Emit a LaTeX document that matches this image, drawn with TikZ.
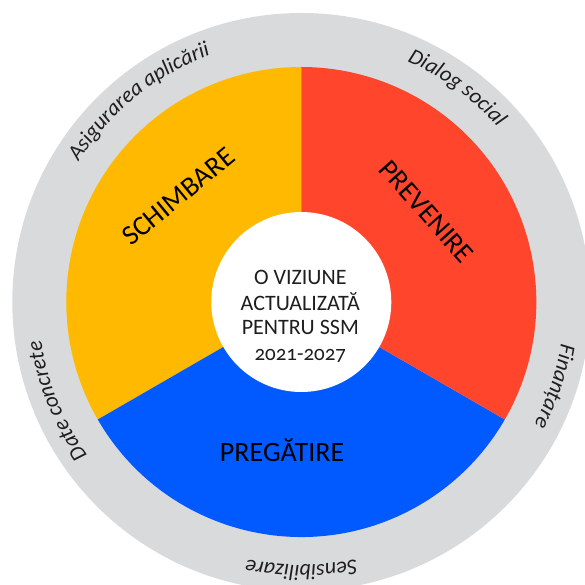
\documentclass[tikz,border=0pt]{standalone}
\usepackage{fontspec}
\setmainfont{Carlito}
\usetikzlibrary{decorations.text}
\definecolor{ringgray}{HTML}{D9DADC}
\definecolor{secyellow}{HTML}{FFB900}
\definecolor{secred}{HTML}{FF462D}
\definecolor{secblue}{HTML}{005AFF}
\definecolor{inktext}{HTML}{1E1E1E}
\newcommand\myringfont{\fontsize{22}{26}\selectfont\itshape}
\begin{document}
\begin{tikzpicture}[x=1pt,y=1pt,
  seclabel/.style={inner sep=0pt, font=\fontsize{28}{32}\selectfont, text=black},
  midline/.style={inner sep=0pt, anchor=base, font=\fontsize{22}{25}\selectfont, text=inktext},
  ringlabel/.style={decorate, decoration={text along path, text align=center, text color=inktext}}
]
\useasboundingbox (-301.3,-283) rectangle (282.7,302);
\coordinate (c) at (0,0);
\fill[ringgray] (c) circle[radius=289pt];
\fill[secyellow] (c) -- (90:235pt) arc[start angle=90,end angle=210,radius=235pt] -- cycle;
\fill[secblue] (c) -- (210:235pt) arc[start angle=210,end angle=330,radius=235pt] -- cycle;
\fill[secred] (c) -- (-30:235pt) arc[start angle=-30,end angle=90,radius=235pt] -- cycle;
\fill[white] (c) circle[radius=90pt];

\node[seclabel, rotate=39.5] (schimbare) at (-123,105.3) {SCHIMBARE};
\node[seclabel, rotate=-48.5] (prevenire) at (125.4,90.3) {PREVENIRE};
\node[seclabel, anchor=base] (pregatire) at (-19.2,-159.8) {PREGĂTIRE};

\node[midline] (l1) at (-1,17) {O VIZIUNE};
\node[midline] (l2) at (-1,-9) {ACTUALIZATĂ};
\node[midline] (l3) at (-1,-33) {PENTRU SSM};
\node[midline, font=\fontsize{21}{25}\selectfont\addfontfeature{Numbers=OldStyle}] (l4) at (-1,-58.5) {2021-2027};

\path[ringlabel, decoration={text={|\myringfont|Sensibilizare}}] (-20:263pt) arc[start angle=-20,end angle=-160,radius=263pt];
\path[ringlabel, decoration={text={|\myringfont|Date concrete}}] (262:263pt) arc[start angle=262,end angle=142,radius=263pt];
\path[ringlabel, decoration={text={|\myringfont|Finanțare}}] (41.6:263pt) arc[start angle=41.6,end angle=-78.4,radius=263pt];
\path[ringlabel, decoration={text={|\myringfont|Dialog social}}] (114:263pt) arc[start angle=114,end angle=-6,radius=263pt];
\path[ringlabel, decoration={text={|\myringfont|Asigurarea aplicării}}] (189:263pt) arc[start angle=189,end angle=69,radius=263pt];
\end{tikzpicture}
\end{document}
